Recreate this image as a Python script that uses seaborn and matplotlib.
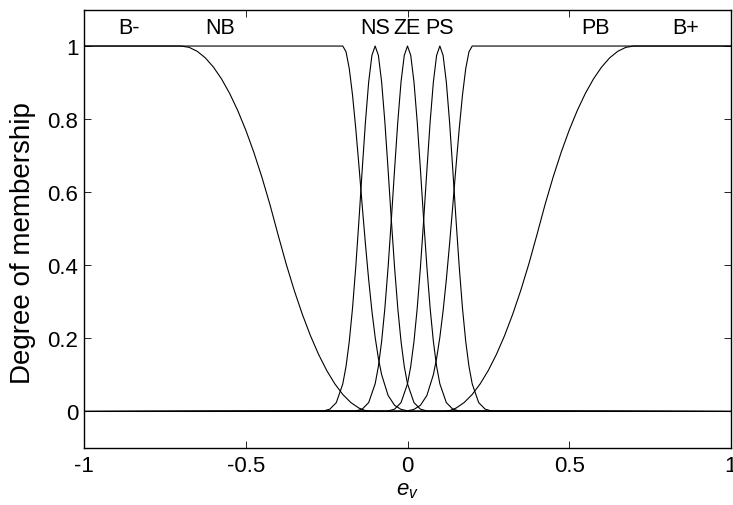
import matplotlib
matplotlib.use("Agg")
import matplotlib.pyplot as plt
import numpy as np
import pandas as pd
import seaborn as sns

# ---------------- data ----------------
mf_names = ["B-", "NB", "NS", "ZE", "PS", "PB", "B+"]
label_x = [-0.86, -0.58, -0.10, 0.0, 0.10, 0.58, 0.86]

bneg_x = [-1.0, -0.70, -0.675, -0.65, -0.625, -0.60, -0.575, -0.55, -0.525, -0.50,
          -0.475, -0.45, -0.425, -0.40, -0.375, -0.35, -0.325, -0.30, -0.275, -0.25,
          -0.225, -0.20, -0.175, -0.15, -0.13, -0.11, 1.0]
bneg_y = [1, 1, 0.9964, 0.9856, 0.9677, 0.9425, 0.9102, 0.8707, 0.8240, 0.7702,
          0.7091, 0.6409, 0.5655, 0.4832, 0.4035, 0.3310, 0.2656, 0.2074, 0.1564, 0.1126,
          0.0760, 0.0465, 0.0243, 0.0092, 0.0023, 0, 0]

nb_x = [-1.0, -0.20, -0.19, -0.18, -0.17, -0.16, -0.15, -0.14, -0.13, -0.12,
        -0.11, -0.10, -0.09, -0.08, -0.06, -0.04, -0.02, 0.00, 1.0]
nb_y = [1, 1, 0.9842, 0.9382, 0.8663, 0.7748, 0.6713, 0.5633, 0.4578, 0.3604,
        0.2749, 0.2030, 0.1453, 0.1007, 0.0439, 0.0169, 0.0057, 0.0017, 0]

ns_x = [-1.0, -0.26, -0.24, -0.22, -0.20, -0.19, -0.18, -0.17, -0.16, -0.15,
        -0.14, -0.13, -0.12, -0.11, -0.10, -0.09, -0.08, -0.07, -0.06, -0.05,
        -0.04, -0.03, -0.02, -0.01, 0.00, 0.02, 0.04, 0.06, 1.0]
ns_y = [0, 0.0013, 0.0063, 0.0243, 0.0756, 0.1234, 0.1915, 0.2821, 0.3946, 0.5243,
        0.6615, 0.7926, 0.9018, 0.9745, 1.0, 0.9745, 0.9018, 0.7926, 0.6615, 0.5243,
        0.3946, 0.2821, 0.1915, 0.1234, 0.0756, 0.0243, 0.0063, 0.0013, 0]

ze_x = [-1.0, -0.16, -0.14, -0.12, -0.10, -0.09, -0.08, -0.07, -0.06, -0.05,
        -0.04, -0.03, -0.02, -0.01, 0.00, 0.01, 0.02, 0.03, 0.04, 0.05,
        0.06, 0.07, 0.08, 0.09, 0.10, 0.12, 0.14, 0.16, 1.0]
ze_y = [0, 0.0013, 0.0063, 0.0243, 0.0756, 0.1234, 0.1915, 0.2821, 0.3946, 0.5243,
        0.6615, 0.7926, 0.9018, 0.9745, 1.0, 0.9745, 0.9018, 0.7926, 0.6615, 0.5243,
        0.3946, 0.2821, 0.1915, 0.1234, 0.0756, 0.0243, 0.0063, 0.0013, 0]

ps_x = [-1.0, -0.06, -0.04, -0.02, 0.00, 0.01, 0.02, 0.03, 0.04, 0.05,
        0.06, 0.07, 0.08, 0.09, 0.10, 0.11, 0.12, 0.13, 0.14, 0.15,
        0.16, 0.17, 0.18, 0.19, 0.20, 0.22, 0.24, 0.26, 1.0]
ps_y = [0, 0.0013, 0.0063, 0.0243, 0.0756, 0.1234, 0.1915, 0.2821, 0.3946, 0.5243,
        0.6615, 0.7926, 0.9018, 0.9745, 1.0, 0.9745, 0.9018, 0.7926, 0.6615, 0.5243,
        0.3946, 0.2821, 0.1915, 0.1234, 0.0756, 0.0243, 0.0063, 0.0013, 0]

pb_x = [-1.0, 0.00, 0.02, 0.04, 0.06, 0.08, 0.09, 0.10, 0.11, 0.12,
        0.13, 0.14, 0.15, 0.16, 0.17, 0.18, 0.19, 0.20, 1.0]
pb_y = [0, 0.0017, 0.0057, 0.0169, 0.0439, 0.1007, 0.1453, 0.2030, 0.2749, 0.3604,
        0.4578, 0.5633, 0.6713, 0.7748, 0.8663, 0.9382, 0.9842, 1, 1]

bpos_x = [-1.0, 0.11, 0.13, 0.15, 0.175, 0.20, 0.225, 0.25, 0.275, 0.30,
          0.325, 0.35, 0.375, 0.40, 0.425, 0.45, 0.475, 0.50, 0.525, 0.55,
          0.575, 0.60, 0.625, 0.65, 0.675, 0.70, 1.0]
bpos_y = [0, 0, 0.0023, 0.0092, 0.0243, 0.0465, 0.0760, 0.1126, 0.1564, 0.2074,
          0.2656, 0.3310, 0.4035, 0.4832, 0.5655, 0.6409, 0.7091, 0.7702, 0.8240, 0.8707,
          0.9102, 0.9425, 0.9677, 0.9856, 0.9964, 1, 1]

x_ticks = [-1, -0.5, 0, 0.5, 1]
x_tick_labels = ["-1", "-0.5", "0", "0.5", "1"]
y_ticks = [0, 0.2, 0.4, 0.6, 0.8, 1]
y_tick_labels = ["0", "0.2", "0.4", "0.6", "0.8", "1"]

# ---------------- build table ----------------
series = {
    "B-": (bneg_x, bneg_y), "NB": (nb_x, nb_y), "NS": (ns_x, ns_y),
    "ZE": (ze_x, ze_y), "PS": (ps_x, ps_y), "PB": (pb_x, pb_y), "B+": (bpos_x, bpos_y),
}
rows = []
for name, (xs, ys) in series.items():
    for xv, yv in zip(xs, ys):
        rows.append({"mf": name, "x": xv, "y": yv})
df = pd.DataFrame(rows)

# ---------------- style ----------------
sns.set_theme(style="ticks")
plt.rcParams["font.family"] = ["Liberation Sans", "DejaVu Sans"]
plt.rcParams["axes.unicode_minus"] = False
plt.rcParams["mathtext.fontset"] = "custom"
plt.rcParams["mathtext.it"] = "Liberation Sans:italic"
plt.rcParams["mathtext.rm"] = "Liberation Sans"

W, H = 733, 506
fig = plt.figure(figsize=(W / 100, H / 100), dpi=100)
ax = fig.add_axes([84 / W, 1 - 449 / H, (731 - 84) / W, (449 - 10.5) / H])

sns.lineplot(data=df, x="x", y="y", hue="mf", palette={n: "black" for n in mf_names},
             estimator=None, sort=False, legend=False, linewidth=0.8, ax=ax)

ax.set_xlim(-1, 1)
ax.set_ylim(-0.1, 1.1)
ax.set_xticks(x_ticks)
ax.set_xticklabels(x_tick_labels)
ax.set_yticks(y_ticks)
ax.set_yticklabels(y_tick_labels)
ax.tick_params(axis="both", direction="in", length=5, width=0.6, top=True, right=True,
               labelsize=16, colors="black")
ax.tick_params(axis="x", pad=5)
ax.tick_params(axis="y", pad=4)
for s in ax.spines.values():
    s.set_visible(True)
    s.set_color("black")
    s.set_linewidth(1.0)

ax.set_xlabel(r"$e_v$", fontsize=16, labelpad=2, color="black")
ax.set_ylabel("Degree of membership", fontsize=20, color="black")
ax.yaxis.set_label_coords(-0.074, 0.47)

for name, lx in zip(mf_names, label_x):
    ax.text(lx, 1.05, name, ha="center", va="center", fontsize=15.5, color="black")

fig.savefig("out.png", dpi=100, facecolor="white")
